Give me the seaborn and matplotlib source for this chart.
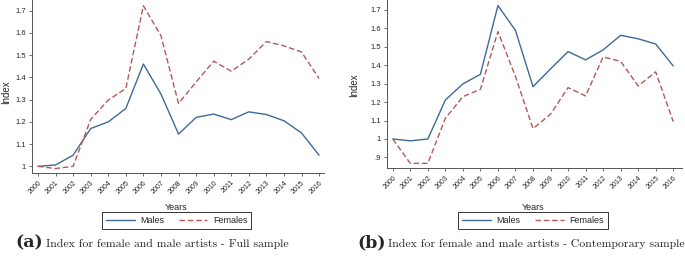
import matplotlib
matplotlib.use("Agg")
import matplotlib.pyplot as plt
import seaborn as sns
import pandas as pd

years = list(range(2000, 2017))

# panel (a): full sample
full_males = [1.0, 1.006, 1.05, 1.17, 1.20, 1.26, 1.46, 1.325, 1.145, 1.22,
              1.235, 1.21, 1.245, 1.233, 1.205, 1.15, 1.05]
full_females = [1.0, 0.99, 1.0, 1.211, 1.298, 1.35, 1.722, 1.587, 1.283, 1.379,
                1.473, 1.428, 1.482, 1.561, 1.542, 1.514, 1.395]

# panel (b): contemporary sample
cont_males = [1.0, 0.99, 1.0, 1.211, 1.298, 1.35, 1.722, 1.587, 1.283, 1.379,
              1.473, 1.428, 1.482, 1.561, 1.542, 1.514, 1.395]
cont_females = [1.0, 0.868, 0.868, 1.112, 1.229, 1.269, 1.581, 1.338, 1.056, 1.134,
                1.278, 1.233, 1.444, 1.42, 1.287, 1.363, 1.094]

yticks_a = [1.0, 1.1, 1.2, 1.3, 1.4, 1.5, 1.6, 1.7]
ylabels_a = ["1", "1.1", "1.2", "1.3", "1.4", "1.5", "1.6", "1.7"]
yticks_b = [0.9, 1.0, 1.1, 1.2, 1.3, 1.4, 1.5, 1.6, 1.7]
ylabels_b = [".9", "1", "1.1", "1.2", "1.3", "1.4", "1.5", "1.6", "1.7"]

captions = ["Index for female and male artists - Full sample",
            "Index for female and male artists - Contemporary sample"]

sns.set_style("ticks")
plt.rcParams['font.family'] = ['Liberation Sans', 'DejaVu Sans']

MALE_COLOR = "#3f6a98"
FEMALE_COLOR = "#b5585a"
SPINE = "#555555"


def make_df(males, females):
    return pd.DataFrame({
        "Years": years * 2,
        "Index": males + females,
        "Sex": ["Males"] * len(years) + ["Females"] * len(years),
    })


def draw_panel(ax, df, yticks, ylabels, ylim, xlim, xlab_y, ylab_x, ylab_y, leg_y):
    sns.lineplot(data=df, x="Years", y="Index", hue="Sex", style="Sex",
                 palette={"Males": MALE_COLOR, "Females": FEMALE_COLOR},
                 dashes={"Males": "", "Females": (4, 2)},
                 linewidth=1.0, legend=False, ax=ax)
    ax.set_xlim(*xlim)
    ax.set_ylim(*ylim)
    ax.set_xticks(years)
    ax.set_xticklabels([str(y) for y in years], rotation=45, ha="right",
                       rotation_mode="anchor", fontsize=5)
    ax.set_yticks(yticks)
    ax.set_yticklabels(ylabels, fontsize=5.5)
    ax.tick_params(axis="both", length=2.5, width=0.6, color=SPINE, pad=2)
    for side in ["top", "right"]:
        ax.spines[side].set_visible(False)
    for side in ["left", "bottom"]:
        ax.spines[side].set_color(SPINE)
        ax.spines[side].set_linewidth(0.7)
    ax.set_xlabel("Years", fontsize=6.5)
    ax.xaxis.set_label_coords(0.495, xlab_y)
    ax.set_ylabel("Index", fontsize=7)
    ax.yaxis.set_label_coords(ylab_x, ylab_y)
    handles = ax.lines[:2]
    leg = ax.legend(handles, ["Males", "Females"], ncol=2, fontsize=6.5,
                    loc="center", bbox_to_anchor=(0.495, leg_y),
                    frameon=True, fancybox=False, handlelength=3.2,
                    columnspacing=1.6, handletextpad=0.6,
                    borderpad=0.45)
    leg.get_frame().set_edgecolor("black")
    leg.get_frame().set_linewidth(0.7)


fig = plt.figure(figsize=(6.85, 2.58), dpi=100)

ax1 = fig.add_axes([32 / 685, 1 - 173 / 258, 292 / 685, 173 / 258])
draw_panel(ax1, make_df(full_males, full_females), yticks_a, ylabels_a,
           (0.97, 1.748), (1999.66, 2016.28), -0.173, -0.072, 0.468, -0.277)

ax2 = fig.add_axes([387 / 685, 1 - 168 / 258, 295 / 685, 168 / 258])
draw_panel(ax2, make_df(cont_males, cont_females), yticks_b, ylabels_b,
           (0.843, 1.752), (1999.67, 2016.5), -0.207, -0.095, 0.494, -0.315)

# sub-figure captions
for x0, tag, cap in [(15, "(a)", captions[0]), (357, "(b)", captions[1])]:
    fig.text(x0 / 685, 1 - 243 / 258, tag, fontsize=12.5,
             family="DejaVu Serif", fontweight="bold", va="center", ha="left")
    fig.text((x0 + 31) / 685, 1 - 244 / 258, cap, fontsize=8.5,
             family="cmr10", va="center", ha="left")

fig.savefig("out.png", dpi=100)
